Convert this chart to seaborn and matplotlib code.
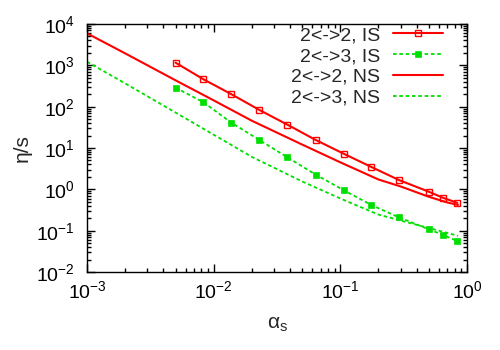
import numpy as np
import pandas as pd
import matplotlib
matplotlib.use("Agg")
import matplotlib.pyplot as plt
import seaborn as sns
from matplotlib.ticker import LogLocator, LogFormatterMathtext, NullFormatter

# ---- data ----
alpha_is = [0.005, 0.0083, 0.0138, 0.023, 0.038, 0.064, 0.106, 0.175, 0.29, 0.50, 0.65, 0.84]
eta_is_22 = [1160, 460, 200, 83, 37, 15.6, 7.3, 3.5, 1.68, 0.875, 0.62, 0.47]
eta_is_23 = [288, 128, 41, 15.6, 6.0, 2.26, 0.96, 0.42, 0.21, 0.108, 0.078, 0.056]

alpha_ns = [0.001, 0.002, 0.005, 0.01, 0.02, 0.05, 0.1, 0.2, 0.3, 0.5, 0.7, 0.85]
eta_ns_22 = [5950, 1950, 434, 142, 45.7, 12.1, 4.5, 1.73, 1.17, 0.66, 0.48, 0.42]
eta_ns_23 = [1224, 366, 72, 21.0, 6.1, 1.55, 0.60, 0.245, 0.175, 0.116, 0.088, 0.075]

labels = ["2<->2, IS", "2<->3, IS", "2<->2, NS", "2<->3, NS"]

sns.set_style("ticks")
plt.rcParams["font.family"] = ["Liberation Sans", "DejaVu Sans"]
plt.rcParams["mathtext.fontset"] = "custom"
plt.rcParams["mathtext.rm"] = "Liberation Sans"
plt.rcParams["mathtext.it"] = "Liberation Sans"
plt.rcParams["mathtext.bf"] = "Liberation Sans:bold"

RED = "#ff0000"
GREEN = "#00e000"
FS = 14

fig = plt.figure(figsize=(5, 3.5), dpi=100)
ax = fig.add_axes([87/500, 1 - 272/350, 380/500, 248/350])

sns.lineplot(x=alpha_is, y=eta_is_22, ax=ax, color=RED, lw=1.5, marker="s",
             markersize=5, markerfacecolor="none", markeredgecolor=RED,
             markeredgewidth=1.0, label=labels[0], estimator=None, sort=False)
sns.lineplot(x=alpha_is, y=eta_is_23, ax=ax, color=GREEN, lw=1.3, marker="s",
             markersize=4, markerfacecolor=GREEN, markeredgecolor=GREEN,
             markeredgewidth=0.5, dashes=False, linestyle=(0, (2, 1.5)),
             label=labels[1], estimator=None, sort=False)
sns.lineplot(x=alpha_ns, y=eta_ns_22, ax=ax, color=RED, lw=1.5,
             label=labels[2], estimator=None, sort=False)
sns.lineplot(x=alpha_ns, y=eta_ns_23, ax=ax, color=GREEN, lw=1.3,
             linestyle=(0, (2, 1.5)), label=labels[3], estimator=None, sort=False)

ax.set_xscale("log")
ax.set_yscale("log")
ax.set_xlim(1e-3, 1)
ax.set_ylim(1e-2, 1e4)

ax.xaxis.set_major_locator(LogLocator(base=10, numticks=10))
ax.yaxis.set_major_locator(LogLocator(base=10, numticks=10))
ax.xaxis.set_minor_locator(LogLocator(base=10, subs=np.arange(2, 10), numticks=20))
ax.yaxis.set_minor_locator(LogLocator(base=10, subs=np.arange(2, 10), numticks=20))
ax.xaxis.set_major_formatter(LogFormatterMathtext())
ax.yaxis.set_major_formatter(LogFormatterMathtext())
ax.xaxis.set_minor_formatter(NullFormatter())
ax.yaxis.set_minor_formatter(NullFormatter())

ax.tick_params(which="both", direction="in", top=True, right=True, width=1.0,
               colors="black", labelsize=FS)
ax.tick_params(which="major", length=5.5)
ax.tick_params(axis="x", which="major", pad=6)
ax.tick_params(axis="y", which="major", pad=9)
ax.tick_params(which="minor", length=3)
for s in ax.spines.values():
    s.set_linewidth(1.0)
    s.set_color("black")

ax.set_xlabel(r"$\alpha_\mathrm{s}$", fontsize=15, labelpad=9)
ax.set_ylabel("η/s", fontsize=15, labelpad=3)

leg = ax.legend(loc="upper right", bbox_to_anchor=(0.937, 0.99), frameon=False,
                markerfirst=False, fontsize=FS, handlelength=2.58,
                handletextpad=0.67, labelspacing=0.17, borderpad=0, borderaxespad=0)

fig.savefig("out.png", dpi=100)
